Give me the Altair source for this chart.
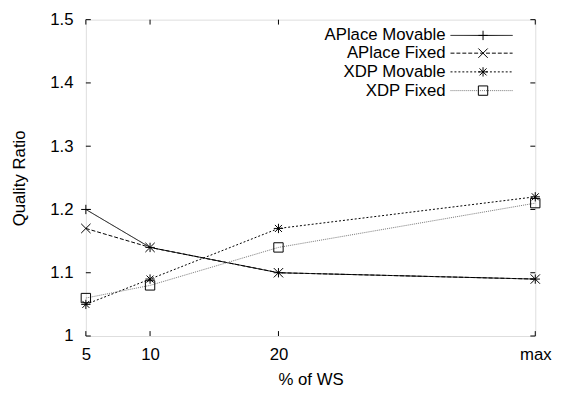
import altair as alt
import pandas as pd

x_vals = [5, 10, 20, 40]
x_labels = ["5", "10", "20", "max"]
series = ["APlace Movable", "APlace Fixed", "XDP Movable", "XDP Fixed"]
aplace_movable = [1.20, 1.14, 1.10, 1.09]
aplace_fixed = [1.17, 1.14, 1.10, 1.09]
xdp_movable = [1.05, 1.09, 1.17, 1.22]
xdp_fixed = [1.06, 1.08, 1.14, 1.21]
y_ticks = [1.0, 1.1, 1.2, 1.3, 1.4, 1.5]

values = [aplace_movable, aplace_fixed, xdp_movable, xdp_fixed]
rows = []
for s, v in zip(series, values):
    for xv, yv in zip(x_vals, v):
        rows.append({"series": s, "x": xv, "y": yv})
df = pd.DataFrame(rows)

PLUS = "M-1,0L1,0M0,-1L0,1"
XSH = "M-1,-1L1,1M-1,1L1,-1"
STAR = "M-1,0L1,0M0,-1L0,1M-0.75,-0.75L0.75,0.75M-0.75,0.75L0.75,-0.75"
shapes = [PLUS, XSH, STAR, "square"]
dashes = [[1, 0], [4, 2], [2, 2], [1, 1]]
colors = ["#000000", "#000000", "#000000", "#777777"]
font = "Liberation Sans"
FS = 17

W, H = 456, 321
xs = alt.Scale(domain=[5, 40], nice=False)
ys = alt.Scale(domain=[1.0, 1.5], nice=False)

label_expr = ("datum.value == 40 ? 'max' : datum.value == 20 ? '20' : "
              "datum.value == 10 ? '10' : '5'")

base = alt.Chart(df)
lines = base.mark_line(strokeWidth=1).encode(
    x=alt.X("x:Q", scale=xs, title="% of WS",
            axis=alt.Axis(values=x_vals, labelExpr=label_expr,
                          ticks=False, domain=False, grid=False, labelPadding=11,
                          labelFont=font, labelFontSize=FS, labelColor="black",
                          titleFont=font, titleFontSize=FS, titleFontWeight="normal",
                          titleColor="black", titlePadding=9, labelFlush=False)),
    y=alt.Y("y:Q", scale=ys, title="Quality Ratio",
            axis=alt.Axis(values=y_ticks, format="~g", ticks=False, domain=False, grid=False,
                          labelPadding=13, labelFont=font, labelFontSize=FS,
                          labelColor="black", titleFont=font, titleFontSize=FS,
                          titleFontWeight="normal", titleColor="black", titlePadding=22,
                          labelFlush=False)),
    color=alt.Color("series:N", scale=alt.Scale(domain=series, range=colors), legend=None),
    strokeDash=alt.StrokeDash("series:N", scale=alt.Scale(domain=series, range=dashes), legend=None),
    detail="series:N",
)
points = base.mark_point(filled=False, size=90, strokeWidth=1, color="black", opacity=1).encode(
    x=alt.X("x:Q", scale=xs),
    y=alt.Y("y:Q", scale=ys),
    shape=alt.Shape("series:N", scale=alt.Scale(domain=series, range=shapes), legend=None),
)

ytick_df = pd.DataFrame({"v": y_ticks})
xtick_df = pd.DataFrame({"v": x_vals})
ytl = alt.Chart(ytick_df).mark_rule(color="black", strokeWidth=1).encode(
    y=alt.Y("v:Q", scale=ys), x=alt.value(0), x2=alt.value(5))
ytr = alt.Chart(ytick_df).mark_rule(color="black", strokeWidth=1).encode(
    y=alt.Y("v:Q", scale=ys), x=alt.value(W - 5), x2=alt.value(W))
xtb = alt.Chart(xtick_df).mark_rule(color="black", strokeWidth=1).encode(
    x=alt.X("v:Q", scale=xs), y=alt.value(H), y2=alt.value(H - 5))
xtt = alt.Chart(xtick_df).mark_rule(color="black", strokeWidth=1).encode(
    x=alt.X("v:Q", scale=xs), y=alt.value(0), y2=alt.value(5))

legend_layers = []
row_y = [16, 34, 53, 72]
for i, s in enumerate(series):
    ldf = pd.DataFrame({"series": [s]})
    t = alt.Chart(ldf).mark_text(align="right", baseline="middle", font=font, fontSize=FS,
                                 color="black").encode(
        text="series:N", x=alt.value(365), y=alt.value(row_y[i]))
    r = alt.Chart(ldf).mark_rule(strokeWidth=1, color=colors[i], strokeDash=dashes[i]).encode(
        x=alt.value(370), x2=alt.value(433), y=alt.value(row_y[i]))
    p = alt.Chart(ldf).mark_point(filled=False, size=90, strokeWidth=1, color="black",
                                  shape=shapes[i], opacity=1).encode(
        x=alt.value(403), y=alt.value(row_y[i]))
    legend_layers += [t, r, p]

chart = alt.layer(lines, points, ytl, ytr, xtb, xtt, *legend_layers).properties(
    width=W, height=H,
    autosize=alt.AutoSizeParams(type="none"),
    padding={"left": 79, "top": 9, "right": 19, "bottom": 55},
).configure_view(stroke="black", strokeWidth=1.5).configure(background="white")

chart.save("out.html", embed_options={"renderer": "svg", "actions": False})
